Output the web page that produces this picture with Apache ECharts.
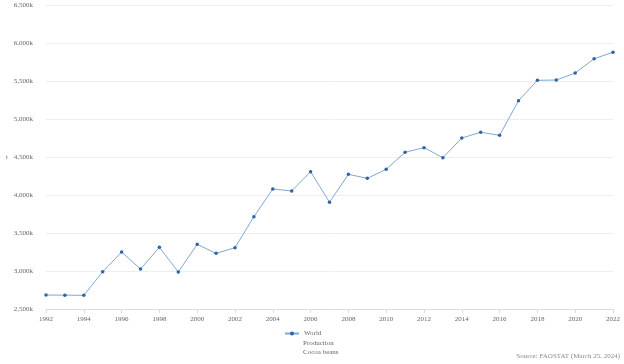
<!DOCTYPE html>
<html><head><meta charset="utf-8">
<script src="https://cdn.jsdelivr.net/npm/echarts@6/dist/echarts.min.js"></script>
<style>html,body{margin:0;padding:0;background:#fff}#c{width:624px;height:364px}</style>
</head><body><div id="c"></div>
<script>
const years = ['1992','1993','1994','1995','1996','1997','1998','1999','2000','2001','2002','2003','2004','2005','2006','2007','2008','2009','2010','2011','2012','2013','2014','2015','2016','2017','2018','2019','2020','2021','2022'];
// production in thousand tonnes
const production = [2684,2682,2680,2990,3250,3026,3312,2987,3351,3232,3307,3715,4079,4053,4307,3905,4272,4219,4338,4562,4623,4491,4750,4825,4785,5241,5509,5513,5605,5793,5878];
const seriesName = 'World';
const seriesSub = 'Production\nCocoa beans';
const sourceText = 'Source: FAOSTAT (March 25, 2024)';
const yTicks = {min: 2500, max: 6500, interval: 500};

const font = 'Liberation Serif';
const chart = echarts.init(document.getElementById('c'), null, {renderer: 'canvas'});
chart.setOption({
  animation: false,
  backgroundColor: '#fff',
  grid: {left: 46, right: 11, top: 5, bottom: 55},
  xAxis: {
    type: 'category', data: years, boundaryGap: false,
    axisLine: {lineStyle: {color: '#ddd'}},
    axisTick: {show: true, interval: 1, length: 4, lineStyle: {color: '#ddd'}},
    axisLabel: {interval: 1, color: '#666', fontFamily: font, fontSize: 7, margin: 7}
  },
  yAxis: {
    type: 'value', min: yTicks.min, max: yTicks.max, interval: yTicks.interval,
    name: 't', nameLocation: 'middle', nameGap: 36, nameRotate: 0,
    nameTextStyle: {color: '#666', fontFamily: font, fontSize: 7},
    axisLine: {show: false}, axisTick: {show: false},
    splitLine: {lineStyle: {color: '#eee'}},
    axisLabel: {color: '#666', fontFamily: font, fontSize: 7, margin: 13,
      formatter: v => v.toLocaleString('en-US') + 'k'}
  },
  legend: {
    left: 284, top: 330, padding: 0, itemWidth: 14, itemHeight: 5, itemGap: 4,
    textStyle: {color: '#666', fontFamily: font, fontSize: 7},
    data: [seriesName]
  },
  graphic: [
    {type: 'text', left: 303, top: 339,
      style: {text: seriesSub, fill: '#666', font: '7px ' + font, lineHeight: 9}},
    {type: 'text', right: 4, top: 353,
      style: {text: sourceText, fill: '#888', font: '7px ' + font}}
  ],
  series: [{
    name: seriesName, type: 'line', data: production,
    symbol: 'circle', symbolSize: 3.5,
    lineStyle: {color: '#7ea9d6', width: 1},
    itemStyle: {color: '#2e63a6'}
  }]
});
</script></body></html>
